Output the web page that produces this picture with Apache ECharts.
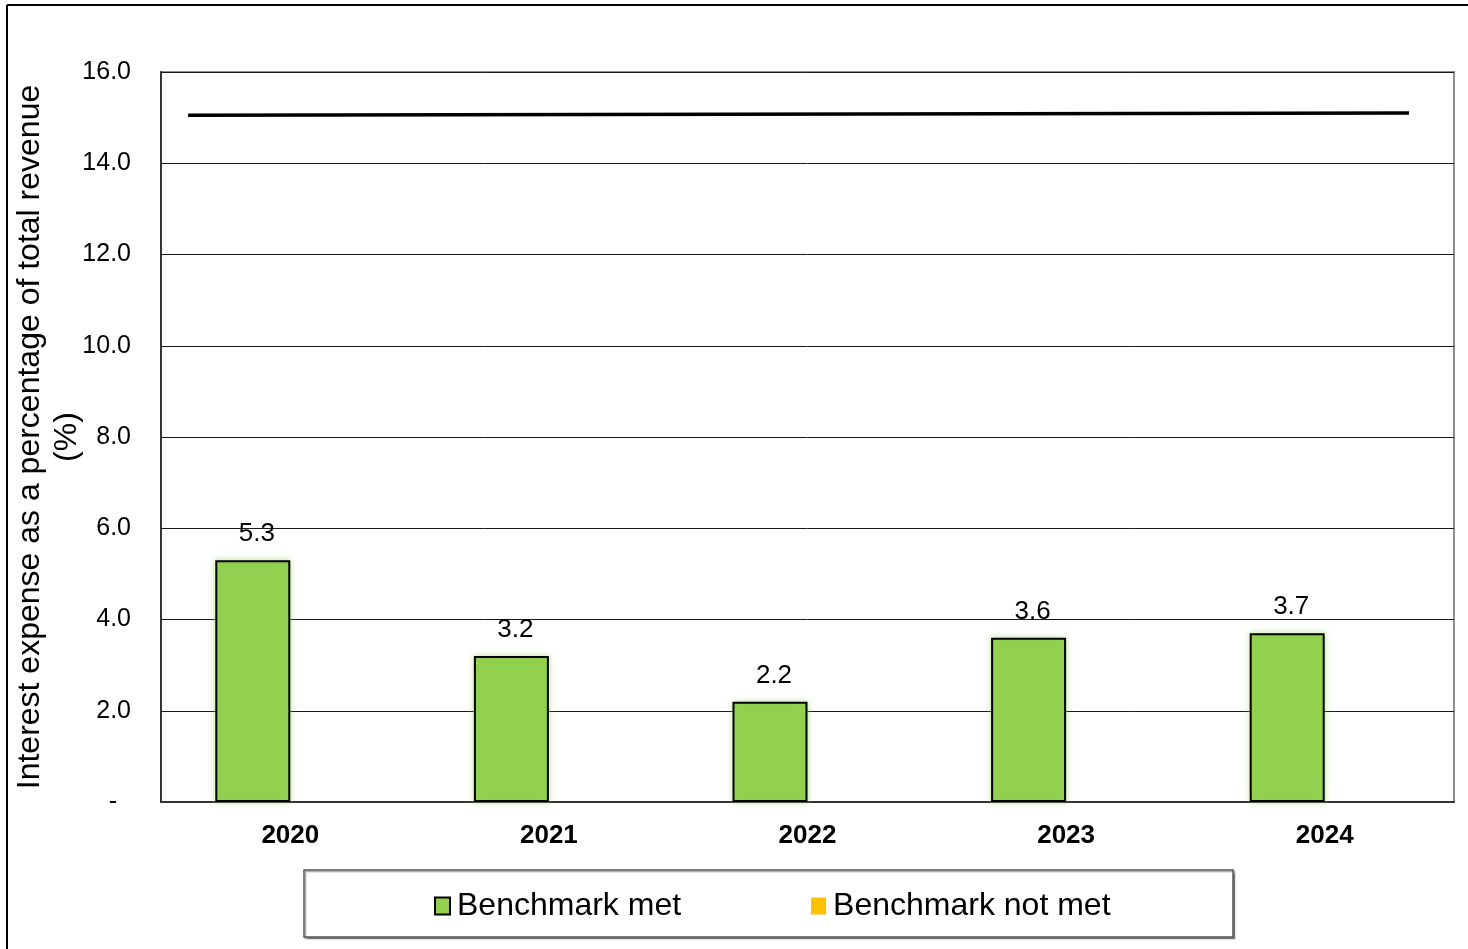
<!DOCTYPE html>
<html>
<head>
<meta charset="utf-8">
<script src="https://cdn.jsdelivr.net/npm/echarts@6/dist/echarts.min.js"></script>
<style>
  html, body { margin: 0; padding: 0; background: #fff; }
  #chart { width: 1468px; height: 949px; }
</style>
</head>
<body>
<div id="chart"></div>
<script>
// Interest expense as a share of total revenue, by year
const years = ['2020', '2021', '2022', '2023', '2024'];
const benchmarkMet = [5.3, 3.2, 2.2, 3.6, 3.7];
const benchmarkNotMet = [null, null, null, null, null];
// 15% benchmark line, start and end values
const benchmarkLine = [15.05, 15.1];
const yTicks = { min: 0, max: 16, interval: 2 };

// horizontal extent of the benchmark line, in category units (0..5)
const lineSpan = [0.105, 4.826];

const FONT = 'Liberation Sans, Arial, sans-serif';
const chart = echarts.init(document.getElementById('chart'), null, { renderer: 'canvas' });

const option = {
  backgroundColor: '#ffffff',
  animation: false,
  grid: {
    left: 161, right: 14, top: 72, bottom: 147,
    show: true, borderColor: '#8c8c8c', borderWidth: 2, backgroundColor: 'transparent'
  },
  legend: {
    top: 885, left: 429,
    itemGap: 130,
    icon: 'rect',
    itemWidth: 15, itemHeight: 17,
    textStyle: { fontFamily: FONT, fontSize: 32, color: '#000', padding: [0, 0, 0, 2] },
    data: [
      { name: 'Benchmark met', itemStyle: { color: '#92D050', borderColor: '#000', borderWidth: 2 } },
      { name: 'Benchmark not met', itemStyle: { color: '#FFC000', borderWidth: 0 } }
    ]
  },
  xAxis: [
    {
      type: 'category',
      data: years,
      axisLine: { show: true, lineStyle: { color: '#333', width: 2 } },
      axisTick: { show: false },
      axisLabel: { fontFamily: FONT, fontSize: 26, fontWeight: 'bold', color: '#000', margin: 21 }
    },
    {
      type: 'value', min: 0, max: years.length, show: false
    }
  ],
  yAxis: {
    type: 'value',
    min: yTicks.min, max: yTicks.max, interval: yTicks.interval,
    axisLine: { show: true, lineStyle: { color: '#333', width: 2 } },
    axisTick: { show: false },
    splitLine: { show: true, lineStyle: { color: '#1a1a1a', width: 1 } },
    axisLabel: {
      fontFamily: FONT, fontSize: 25, color: '#000', margin: 30,
      formatter: v => (v === 0 ? '-  ' : v.toFixed(1))
    }
  },
  series: [
    {
      name: 'Benchmark met',
      type: 'bar',
      data: benchmarkMet,
      barWidth: 75,
      barGap: '0%',
      itemStyle: {
        color: '#92D050', borderColor: '#000', borderWidth: 2,
        shadowColor: 'rgba(146,208,80,0.55)', shadowBlur: 6
      },
      label: {
        show: true, position: 'top', distance: 13, offset: [4, 0],
        fontFamily: FONT, fontSize: 26, color: '#000',
        formatter: p => p.value.toFixed(1)
      },
      z: 3
    },
    {
      name: 'Benchmark not met',
      type: 'bar',
      data: benchmarkNotMet,
      barWidth: 75,
      barGap: '0%',
      itemStyle: { color: '#FFC000', borderWidth: 0 },
      z: 3
    },
    {
      name: 'Benchmark',
      type: 'line',
      xAxisIndex: 1,
      data: [[lineSpan[0], benchmarkLine[0]], [lineSpan[1], benchmarkLine[1]]],
      symbol: 'none',
      lineStyle: { color: '#000', width: 3.5 },
      silent: true,
      z: 4
    }
  ],
  graphic: [
    // outer chart frame (left and top edges)
    { type: 'line', shape: { x1: 7, y1: 5, x2: 7, y2: 949 }, style: { stroke: '#000', lineWidth: 2 } },
    { type: 'line', shape: { x1: 7, y1: 5, x2: 1468, y2: 5 }, style: { stroke: '#000', lineWidth: 2 } },
    // legend box
    {
      type: 'rect', z: -1,
      shape: { x: 304, y: 870, width: 929, height: 67 },
      style: { fill: '#fff', stroke: '#555', lineWidth: 1.5, shadowColor: 'rgba(0,0,0,0.35)', shadowOffsetX: 1.5, shadowOffsetY: 1.5, shadowBlur: 1 }
    },
    // y-axis title
    {
      type: 'text', x: 49, y: 437, rotation: Math.PI / 2,
      style: {
        text: 'Interest expense as a percentage of total revenue\n(%)',
        fontFamily: FONT, fontSize: 32, fill: '#000',
        align: 'center', verticalAlign: 'middle', lineHeight: 37
      }
    }
  ]
};

chart.setOption(option);
</script>
</body>
</html>
